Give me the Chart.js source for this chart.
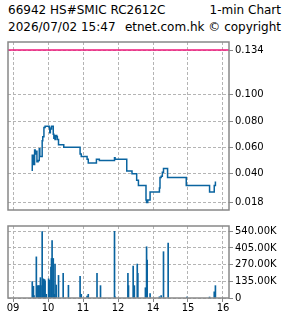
<!DOCTYPE html>
<html>
<head>
<meta charset="utf-8">
<script src="https://cdn.jsdelivr.net/npm/chart.js@4"></script>
<style>
  html, body { margin: 0; padding: 0; background: #fff; }
  body { width: 285px; height: 318px; position: relative; overflow: hidden; font-family: "DejaVu Sans", sans-serif; }
  .hd { position: absolute; font-size: 12px; line-height: 14px; color: #000; white-space: nowrap; }
  #priceChart { position: absolute; left: 0; top: 0; }
  #volChart { position: absolute; left: 0; top: 218px; }
</style>
</head>
<body>
<div class="hd" style="left:8px; top:3px;">66942 HS#SMIC RC2612C</div>
<div class="hd" style="right:4px; top:3px;">1-min Chart</div>
<div class="hd" style="left:8px; top:20px;">2026/07/02 15:47</div>
<div class="hd" style="right:4px; top:20px;">etnet.com.hk © copyright</div>
<canvas id="priceChart" width="285" height="218"></canvas>
<canvas id="volChart" width="285" height="100"></canvas>
<script>
// hour labels (13:00 sits on the 12 mark, lunch removed)
const hourLabels = ['09', '10', '11', '12', '14', '15', '16'];
const hourTicks = [0, 60, 120, 180, 240, 300, 360];
const priceTicks = [0.018, 0.040, 0.060, 0.080, 0.100, 0.134];
const volTicks = [0, 135000, 270000, 405000, 540000];
const refPrice = 0.134;

const priceTimes = ['09:33', '09:33', '09:35', '09:37', '09:38', '09:39', '09:41', '09:43', '09:45', '09:46',
    '09:50', '09:51', '09:53', '09:55', '10:02', '10:03', '10:04', '10:06', '10:09', '10:10',
    '10:11', '10:12', '10:13', '10:15', '10:16', '10:18', '10:27', '10:55', '10:57', '11:07',
    '11:09', '11:23', '11:28', '11:54', '11:55', '13:15', '13:24', '13:32', '13:35', '13:48',
    '13:49', '13:51', '13:55', '14:11', '14:12', '14:14', '14:16', '14:18', '14:25', '14:57',
    '15:37', '15:45', '15:47'];
const prices = [0.042, 0.054, 0.047, 0.058, 0.055, 0.057, 0.049, 0.050, 0.059, 0.053,
    0.065, 0.068, 0.075, 0.076, 0.075, 0.071, 0.074, 0.076, 0.070, 0.067,
    0.069, 0.066, 0.069, 0.068, 0.066, 0.062, 0.060, 0.055, 0.053, 0.051,
    0.048, 0.051, 0.050, 0.052, 0.051, 0.042, 0.040, 0.035, 0.031, 0.020,
    0.018, 0.020, 0.026, 0.029, 0.037, 0.038, 0.041, 0.044, 0.037, 0.031,
    0.026, 0.031, 0.034];

const volTimes = ['09:33', '09:35', '09:36', '09:40', '09:42', '09:44', '09:45', '09:47', '09:48', '09:50',
    '09:52', '09:54', '09:55', '09:57', '10:01', '10:03', '10:05', '10:06', '10:07', '10:09',
    '10:11', '10:12', '10:14', '10:18', '10:26', '10:35', '10:55', '10:57', '11:07', '11:09',
    '11:24', '11:30', '11:54', '11:55', '13:17', '13:18', '13:26', '13:28', '13:33', '13:34',
    '13:47', '13:49', '13:50', '13:55', '14:11', '14:14', '14:18', '14:26', '14:58', '15:37',
    '15:45', '15:47'];
const volumes = [133000, 95000, 20000, 333000, 100000, 100000, 100000, 165000, 100000, 538000,
    155000, 150000, 140000, 30000, 155000, 145000, 250000, 320000, 465000, 320000,
    30000, 275000, 105000, 183000, 200000, 103000, 175000, 30000, 15000, 30000,
    200000, 100000, 540000, 10000, 200000, 100000, 258000, 100000, 275000, 200000,
    83000, 415000, 307000, 35000, 10000, 20000, 375000, 445000, 8000, 8000,
    50000, 100000];

// trading minutes from 09:00, lunch hour squeezed out
function tm(s) {
    const [h, m] = s.split(':').map(Number);
    let t = (h - 9) * 60 + m;
    if (h >= 13) t -= 60;
    return t;
}

const xMin = -8.6, xMax = 370.3;
const lineBlue = '#0a64a0';
const gridGray = '#b4b4b4';
const font = { family: 'DejaVu Sans', size: 10 };

Chart.defaults.font.family = 'DejaVu Sans';
Chart.defaults.color = '#000';

// grey frame round the plot area
const frame = {
    id: 'frame',
    afterDraw(chart) {
        const { ctx, chartArea: a } = chart;
        ctx.save();
        ctx.strokeStyle = '#888';
        ctx.lineWidth = 1.5;
        ctx.strokeRect(a.left, a.top, a.right - a.left, a.bottom - a.top);
        ctx.restore();
    }
};

function xAxis(showLabels) {
    return {
        type: 'linear', min: xMin, max: xMax, offset: false,
        afterBuildTicks: s => { s.ticks = hourTicks.map(v => ({ value: v })); },
        afterFit: s => { s.height = showLabels ? 20 : 0; },
        ticks: {
            display: showLabels, autoSkip: false, maxRotation: 0, padding: 0, font: font, color: '#000',
            callback: (v, i) => hourLabels[i]
        },
        grid: { offset: false, color: gridGray, drawTicks: showLabels, tickLength: 4, tickColor: '#888', tickBorderDash: [] },
        border: { display: false, dash: [3, 2] }
    };
}

function yAxis(min, max, tickVals, fmt) {
    return {
        position: 'right', min: min, max: max,
        afterBuildTicks: s => { s.ticks = tickVals.map(v => ({ value: v })); },
        afterFit: s => { s.width = 56; },
        ticks: { padding: 2, font: font, color: '#000', callback: fmt },
        grid: { color: gridGray, tickLength: 4, tickColor: '#888', tickBorderDash: [] },
        border: { display: false, dash: [3, 2] }
    };
}

new Chart(document.getElementById('priceChart'), {
    type: 'line',
    data: {
        datasets: [
            {
                data: [{ x: xMin, y: refPrice }, { x: xMax, y: refPrice }],
                borderColor: '#f0147a', borderWidth: 1.5, pointRadius: 0
            },
            {
                data: priceTimes.map((s, i) => ({ x: tm(s), y: prices[i] })),
                borderColor: lineBlue, borderWidth: 1.5, pointRadius: 0, stepped: true
            }
        ]
    },
    options: {
        responsive: false, animation: false,
        layout: { padding: { left: 8, top: 42, right: 0, bottom: 2 } },
        plugins: { legend: { display: false }, tooltip: { enabled: false } },
        scales: {
            x: xAxis(false),
            y: yAxis(0.01235, 0.1401, priceTicks, v => v.toFixed(3))
        }
    },
    plugins: [frame]
});

new Chart(document.getElementById('volChart'), {
    type: 'bar',
    data: {
        datasets: [{
            data: volTimes.map((s, i) => ({ x: tm(s), y: volumes[i] })),
            backgroundColor: lineBlue, barThickness: 1
        }]
    },
    options: {
        responsive: false, animation: false,
        layout: { padding: { left: 8, top: 2, right: 0, bottom: 0 } },
        plugins: { legend: { display: false }, tooltip: { enabled: false } },
        scales: {
            x: xAxis(true),
            y: yAxis(0, 583000, volTicks, v => v === 0 ? '0' : (v / 1000).toFixed(2) + 'K')
        }
    },
    plugins: [frame]
});
</script>
</body>
</html>
